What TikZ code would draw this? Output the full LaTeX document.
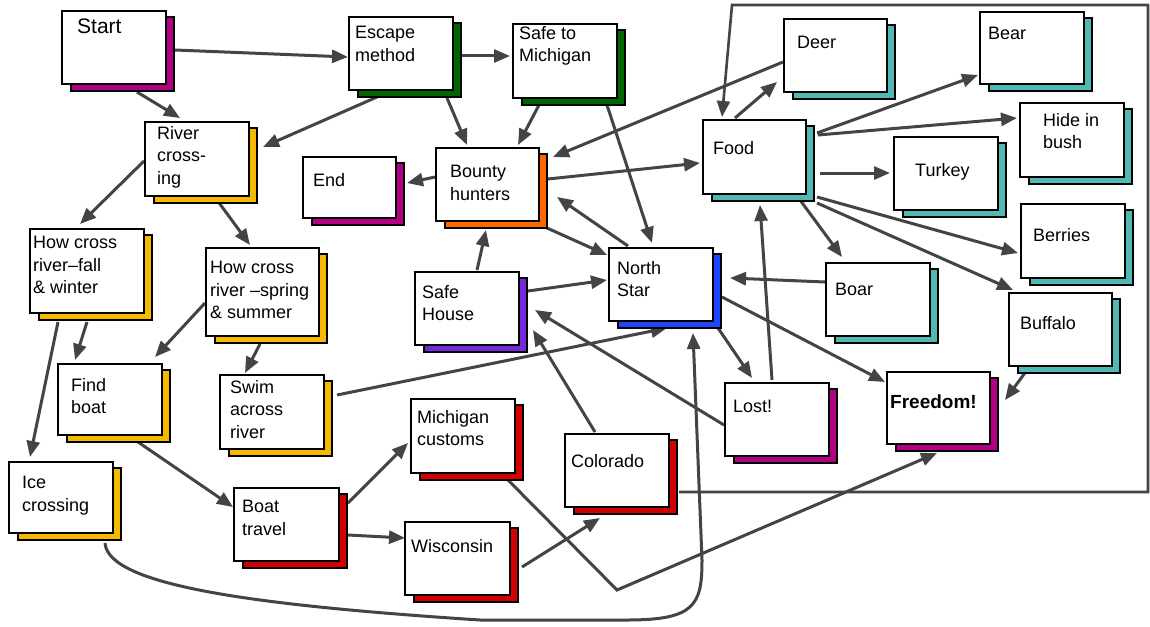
\documentclass[tikz,border=0pt]{standalone}
\usepackage{fontspec}
\setmainfont{Liberation Sans}
\usetikzlibrary{arrows.meta,calc}
\pgfdeclarelayer{paper}
\pgfdeclarelayer{links}
\pgfsetlayers{paper,links,main}
\definecolor{cmag}{RGB}{180,0,130}
\definecolor{cgreen}{RGB}{0,100,0}
\definecolor{cgold}{RGB}{245,185,0}
\definecolor{corange}{RGB}{255,102,0}
\definecolor{cteal}{RGB}{80,185,180}
\definecolor{cblue}{RGB}{30,70,255}
\definecolor{cpurple}{RGB}{120,40,220}
\definecolor{cred}{RGB}{210,0,0}
\definecolor{lineg}{RGB}{68,68,68}
\newcommand\mkbox[6]{%
  \draw[shad, fill=#6] (#2+10,#3+7) rectangle (#4+9,#5+8);
  \node[front, minimum width={(#4-#2)*1pt}, minimum height={(#5-#3)*1pt}] (#1) at (#2,#3) {};
}
\begin{document}
\begin{tikzpicture}[x=1pt,y=-1pt,
  con/.style={draw=lineg, line width=3pt, -{Triangle[length=16pt,width=13pt]}},
  frameline/.style={draw=lineg, line width=2.6pt, -{Triangle[length=16pt,width=13pt]}},
  front/.style={draw=black, line width=1.6pt, fill=white, inner sep=0pt, anchor=north west},
  shad/.style={draw=black, line width=1.6pt},
  txt/.style={anchor=north west, inner sep=0pt, align=left, font=\fontsize{18}{22.5}\selectfont}]
\begin{pgfonlayer}{paper}
\fill[white] (0,0) rectangle (1150,626);
\end{pgfonlayer}
\useasboundingbox (0,0) rectangle (1150,626);

% boxes
\mkbox{start}{61}{10}{165}{83}{cmag}
\mkbox{river}{144}{121}{248}{195}{cgold}
\mkbox{esc}{348}{16}{452}{89}{cgreen}
\mkbox{safemi}{512}{23}{616}{97}{cgreen}
\mkbox{bounty}{435}{147}{538}{220}{corange}
\mkbox{endb}{302}{156}{395}{217}{cmag}
\mkbox{food}{702}{119}{805}{193}{cteal}
\mkbox{deer}{783}{18}{886}{91}{cteal}
\mkbox{bear}{979}{11}{1083}{83}{cteal}
\mkbox{hide}{1019}{102}{1123}{176}{cteal}
\mkbox{turkey}{893}{136}{997}{209}{cteal}
\mkbox{berries}{1020}{203}{1124}{277}{cteal}
\mkbox{buffalo}{1008}{292}{1111}{365}{cteal}
\mkbox{boar}{825}{262}{929}{335}{cteal}
\mkbox{freedom}{886}{371}{989}{443}{cmag}
\mkbox{lost}{724}{382}{828}{455}{cmag}
\mkbox{north}{608}{247}{712}{320}{cblue}
\mkbox{safeh}{414}{271}{518}{344}{cpurple}
\mkbox{michc}{410}{398}{514}{472}{cred}
\mkbox{colorado}{564}{433}{668}{506}{cred}
\mkbox{wisc}{404}{521}{509}{594}{cred}
\mkbox{boat}{233}{487}{338}{560}{cred}
\mkbox{ice}{8}{461}{112}{532}{cgold}
\mkbox{howfall}{29}{228}{143}{312}{cgold}
\mkbox{howspring}{205}{247}{318}{335}{cgold}
\mkbox{findb}{57}{363}{161}{434}{cgold}
\mkbox{swim}{219}{374}{323}{448}{cgold}

% texts
\node[txt, font=\fontsize{21}{25}\selectfont] (start-t) at ($(start.north west)+(16,9)$) {Start};
\node[txt] (river-t) at ($(river.north west)+(13,5)$) {River\\cross-\\ing};
\node[txt] (esc-t) at ($(esc.north west)+(7,10)$) {Escape\\method};
\node[txt] (safemi-t) at ($(safemi.north west)+(7,3)$) {Safe to\\Michigan};
\node[txt] (bounty-t) at ($(bounty.north west)+(15,18)$) {Bounty\\hunters};
\node[txt] (endb-t) at ($(endb.north west)+(11,17)$) {End};
\node[txt] (food-t) at ($(food.north west)+(11,22)$) {Food};
\node[txt] (deer-t) at ($(deer.north west)+(14,18)$) {Deer};
\node[txt] (bear-t) at ($(bear.north west)+(9,16)$) {Bear};
\node[txt] (hide-t) at ($(hide.north west)+(24,11)$) {Hide in\\bush};
\node[txt] (turkey-t) at ($(turkey.north west)+(22,27)$) {Turkey};
\node[txt] (berries-t) at ($(berries.north west)+(13,25)$) {Berries};
\node[txt] (buffalo-t) at ($(buffalo.north west)+(12,24)$) {Buffalo};
\node[txt] (boar-t) at ($(boar.north west)+(10,21)$) {Boar};
\node[txt, font=\fontsize{19}{22.5}\selectfont\bfseries] (freedom-t) at ($(freedom.north west)+(4,24)$) {Freedom!};
\node[txt] (lost-t) at ($(lost.north west)+(9,18)$) {Lost!};
\node[txt] (north-t) at ($(north.north west)+(9,14)$) {North\\Star};
\node[txt] (safeh-t) at ($(safeh.north west)+(8,14)$) {Safe\\House};
\node[txt] (michc-t) at ($(michc.north west)+(7,12)$) {Michigan\\customs};
\node[txt] (colorado-t) at ($(colorado.north west)+(7,21)$) {Colorado};
\node[txt] (wisc-t) at ($(wisc.north west)+(7,18)$) {Wisconsin};
\node[txt] (boat-t) at ($(boat.north west)+(9,13)$) {Boat\\travel};
\node[txt] (ice-t) at ($(ice.north west)+(14,15)$) {Ice\\crossing};
\node[txt] (howfall-t) at ($(howfall.north west)+(4,8)$) {How cross\\river–fall\\\& winter};
\node[txt] (howspring-t) at ($(howspring.north west)+(5,14)$) {How cross\\river –spring\\\& summer};
\node[txt] (findb-t) at ($(findb.north west)+(14,15)$) {Find\\boat};
\node[txt] (swim-t) at ($(swim.north west)+(11,6)$) {Swim\\across\\river};

% connectors
\begin{pgfonlayer}{links}
\draw[con] ($(start.north west)+(114,40)$) -- ($(esc.north west)+(0,41)$);
\draw[con] ($(start.north west)+(76,82)$) -- ($(river.north west)+(36,-3)$);
\draw[con] ($(esc.north west)+(29,81)$) -- ($(river.north west)+(119,26)$);
\draw[con] ($(esc.north west)+(112,40)$) -- ($(safemi.north west)+(-2,33)$);
\draw[con] ($(esc.north west)+(99,82)$) -- ($(bounty.north west)+(32,-2)$);
\draw[con] ($(safemi.north west)+(27,82)$) -- ($(bounty.north west)+(83,-2)$);
\draw[con] ($(safemi.north west)+(95,82)$) -- ($(north.north west)+(44,-4)$);
\draw[con] ($(deer.north west)+(0,44)$) -- ($(bounty.north west)+(118,10)$);
\draw[con] ($(bounty.north west)+(0,30)$) -- ($(endb.north west)+(105,27)$);
\draw[con] ($(bounty.north west)+(113,32)$) -- ($(food.north west)+(-2,44)$);
\draw[con] ($(north.north west)+(20,-1)$) -- ($(bounty.north west)+(122,50)$);
\draw[con] ($(bounty.north west)+(112,81)$) -- ($(north.north west)+(-1,8)$);
\draw[con] ($(safeh.north west)+(63,-1)$) -- ($(bounty.north west)+(51,83)$);
\draw[con] ($(safeh.north west)+(114,20)$) -- ($(north.north west)+(-1,33)$);
\draw[con] ($(lost.north west)+(0,43)$) -- ($(safeh.north west)+(121,39)$);
\draw[con] ($(colorado.north west)+(31,-1)$) -- ($(safeh.north west)+(119,59)$);
\draw[con] ($(swim.north west)+(118,21)$) -- ($(north.north west)+(59,81)$);
\draw[con] ($(ice.north west)+(97,82)$) .. controls (108,585) and (250,605) .. (480,620)
   -- (627,620) .. controls (695,620) and (702,605) .. (702,560) -- ($(north.north west)+(85,86)$);
\draw[con] ($(michc.north west)+(98,82)$) -- (617,590) -- ($(freedom.north west)+(51,82)$);
\draw[con] ($(wisc.north west)+(118,46)$) -- ($(colorado.north west)+(36,85)$);
\draw[con] ($(boat.north west)+(115,16)$) -- ($(michc.north west)+(-2,45)$);
\draw[con] ($(boat.north west)+(115,48)$) -- ($(wisc.north west)+(1,17)$);
\draw[con] ($(findb.north west)+(81,79)$) -- ($(boat.north west)+(0,20)$);
\draw[con] ($(howfall.north west)+(58,94)$) -- ($(findb.north west)+(18,-3)$);
\draw[con] ($(howfall.north west)+(29,94)$) -- ($(ice.north west)+(22,-4)$);
\draw[con] ($(howspring.north west)+(0,56)$) -- ($(findb.north west)+(98,-6)$);
\draw[con] ($(howspring.north west)+(55,97)$) -- ($(swim.north west)+(26,-1)$);
\draw[con] ($(river.north west)+(0,40)$) -- ($(howfall.north west)+(51,-4)$);
\draw[con] ($(river.north west)+(73,79)$) -- ($(howspring.north west)+(45,-2)$);
\draw[con] ($(north.north west)+(110,81)$) -- ($(lost.north west)+(28,-4)$);
\draw[con] ($(lost.north west)+(48,-2)$) -- ($(food.north west)+(58,86)$);
\draw[con] ($(north.north west)+(114,50)$) -- ($(freedom.north west)+(-1,11)$);
\draw[con] ($(boar.north west)+(0,20)$) -- ($(north.north west)+(122,31)$);
\draw[con] ($(food.north west)+(33,-1)$) -- ($(deer.north west)+(-6,64)$);
\draw[con] ($(food.north west)+(115,14)$) -- ($(bear.north west)+(-1,64)$);
\draw[con] ($(food.north west)+(116,16)$) -- ($(hide.north west)+(-2,16)$);
\draw[con] ($(food.north west)+(118,54)$) -- ($(turkey.north west)+(-3,37)$);
\draw[con] ($(food.north west)+(98,81)$) -- ($(boar.north west)+(17,-5)$);
\draw[con] ($(food.north west)+(115,78)$) -- ($(berries.north west)+(-2,50)$);
\draw[con] ($(food.north west)+(115,84)$) -- ($(buffalo.north west)+(5,-2)$);
\draw[con] ($(buffalo.north west)+(69,10)$) -- ($(freedom.north west)+(119,29)$);
\draw[frameline] ($(colorado.north west)+(115,59)$) -- (1148,492) -- (1148,5) -- (732,5) -- ($(food.north west)+(20,-2)$);
\end{pgfonlayer}
\end{tikzpicture}
\end{document}
